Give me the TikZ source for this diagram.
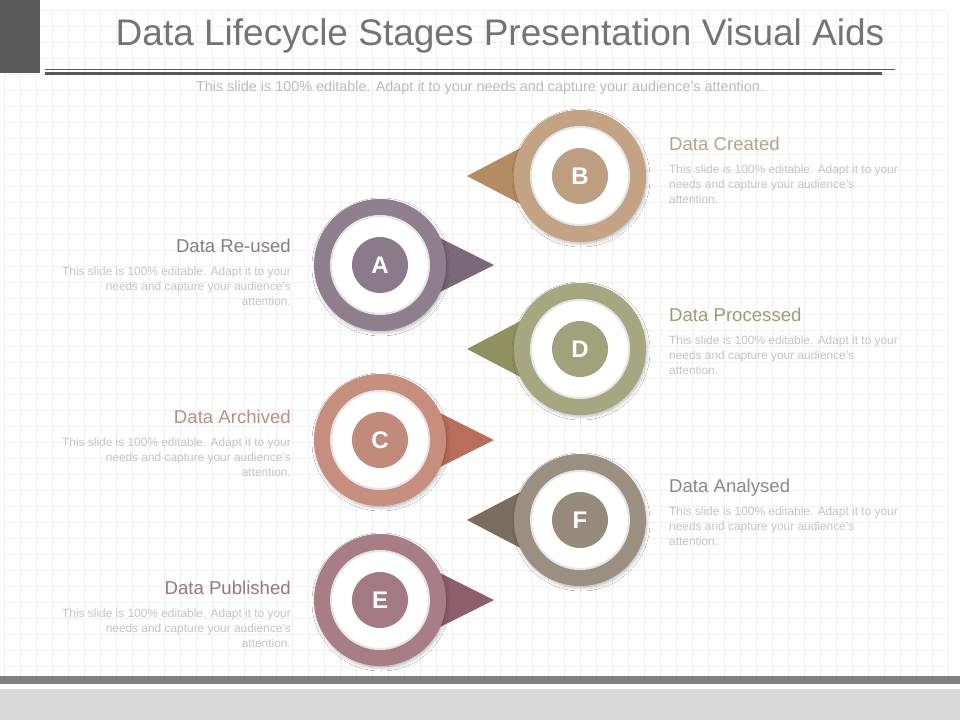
\documentclass[tikz,border=0pt]{standalone}
\usepackage{fontspec}
\setmainfont{Liberation Sans}
\usetikzlibrary{calc,shadows.blur}
\definecolor{gridgray}{HTML}{F0F0F0}
\definecolor{bargray}{HTML}{595959}
\definecolor{titlegray}{HTML}{747474}
\definecolor{subgray}{HTML}{BBBBBB}
\definecolor{bodygray}{HTML}{C4C4C4}
\definecolor{bandgray}{HTML}{808080}
\definecolor{footgray}{HTML}{D9D9D9}
\definecolor{ringA}{HTML}{8F7F8E}\definecolor{tipA}{HTML}{7B6878}\definecolor{headA}{HTML}{8A7A88}
\definecolor{ringB}{HTML}{C4A384}\definecolor{tipB}{HTML}{B58B62}\definecolor{headB}{HTML}{BBA187}
\definecolor{ringC}{HTML}{C78E7E}\definecolor{tipC}{HTML}{B96E59}\definecolor{headC}{HTML}{BF8E80}
\definecolor{ringD}{HTML}{A5A780}\definecolor{tipD}{HTML}{8F925F}\definecolor{headD}{HTML}{9C9C72}
\definecolor{ringE}{HTML}{A87D88}\definecolor{tipE}{HTML}{8D5F6D}\definecolor{headE}{HTML}{9C7580}
\definecolor{ringF}{HTML}{9B8F7F}\definecolor{tipF}{HTML}{7A6F5E}\definecolor{headF}{HTML}{8A8A8A}
\tikzset{
	gridline/.style={draw=gridgray, line width=0.8pt},
	ring/.style={circle, inner sep=0pt, minimum size=132pt,
			blur shadow={shadow xshift=1pt, shadow yshift=-2pt, shadow blur radius=3pt, shadow opacity=25}},
	hole/.style={circle, inner sep=0pt, minimum size=98pt, fill=white, draw=black!10, line width=2pt},
	badge/.style={circle, inner sep=0pt, minimum size=56pt, text=white,
			font=\bfseries\fontsize{24}{24}\selectfont},
	stagehead/.style={inner sep=0pt, font=\fontsize{18.6}{18.6}\selectfont},
	stagetext/.style={inner sep=0pt, text=bodygray, font=\fontsize{11.9}{15}\selectfont}
}

\begin{document}
\begin{tikzpicture}[x=1pt,y=-1pt]
        \useasboundingbox (0,0) rectangle (960,720);
        \fill[white] (0,0) rectangle (960,720);
        \begin{scope}[shift={(4,10)}]
            \draw[gridline,step=16pt] (0,0) grid (944,666);
        \end{scope}
        % header
        \fill[bargray] (0,0) rectangle (40,73);
        \node[text=titlegray,font=\fontsize{37}{37}\selectfont,inner sep=0pt] (title) at (500,36) {Data Lifecycle Stages Presentation Visual Aids};
        \coordinate (rule_l) at (45,69);
        \coordinate (rule_r) at (895,69);
        \coordinate (bar_l) at (45,73.5);
        \coordinate (bar_r) at (882,73.5);
        \draw[bargray,line width=0.8pt] (rule_l) -- (rule_r);
        \draw[bargray,line width=2.5pt] (bar_l) -- (bar_r);
        \node[text=subgray,font=\fontsize{14.4}{14.4}\selectfont,inner sep=0pt] (subtitle) at (480,88) {This slide is 100\% editable. Adapt it to your needs and capture your audience's attention.};
        % pointers
        \fill[tipB] (467,176) -- (530,143) -- (530,209) -- cycle;
        \fill[tipD] (467,349) -- (530,316) -- (530,382) -- cycle;
        \fill[tipF] (467,520) -- (530,487) -- (530,553) -- cycle;
        \fill[tipA] (494,265) -- (430,233) -- (430,297) -- cycle;
        \fill[tipC] (494,440) -- (430,408) -- (430,472) -- cycle;
        \fill[tipE] (494,600) -- (430,568) -- (430,632) -- cycle;
        % rings
        \node[ring,fill=ringB] (ring_B) at (580,176) {};
        \node[hole] (hole_B) at (ring_B.center) {};
        \node[badge,fill=ringB!97!black] (B) at (ring_B.center) {B};
        \node[ring,fill=ringA] (ring_A) at (380,265) {};
        \node[hole] (hole_A) at (ring_A.center) {};
        \node[badge,fill=ringA!97!black] (A) at (ring_A.center) {A};
        \node[ring,fill=ringD] (ring_D) at (580,349) {};
        \node[hole] (hole_D) at (ring_D.center) {};
        \node[badge,fill=ringD!97!black] (D) at (ring_D.center) {D};
        \node[ring,fill=ringC] (ring_C) at (380,440) {};
        \node[hole] (hole_C) at (ring_C.center) {};
        \node[badge,fill=ringC!97!black] (C) at (ring_C.center) {C};
        \node[ring,fill=ringF] (ring_F) at (580,520) {};
        \node[hole] (hole_F) at (ring_F.center) {};
        \node[badge,fill=ringF!97!black] (F) at (ring_F.center) {F};
        \node[ring,fill=ringE] (ring_E) at (380,600) {};
        \node[hole] (hole_E) at (ring_E.center) {};
        \node[badge,fill=ringE!97!black] (E) at (ring_E.center) {E};
        % texts on the right
        \node[stagehead,text=headB,anchor=base west] (head_B) at (669,150) {Data Created};
        \node[stagetext,align=left,anchor=north west] (text_B) at (669,165) {This slide is 100\% editable. Adapt it to your\\needs and capture your audience's\\attention.};
        \node[stagehead,text=headD,anchor=base west] (head_D) at (669,321) {Data Processed};
        \node[stagetext,align=left,anchor=north west] (text_D) at (669,336) {This slide is 100\% editable. Adapt it to your\\needs and capture your audience's\\attention.};
        \node[stagehead,text=headF,anchor=base west] (head_F) at (669,492) {Data Analysed};
        \node[stagetext,align=left,anchor=north west] (text_F) at (669,507) {This slide is 100\% editable. Adapt it to your\\needs and capture your audience's\\attention.};
        % texts on the left
        \node[stagehead,text=headA,anchor=base east] (head_A) at (291,252) {Data Re-used};
        \node[stagetext,align=right,anchor=north east] (text_A) at (291,267) {This slide is 100\% editable. Adapt it to your\\needs and capture your audience's\\attention.};
        \node[stagehead,text=headC,anchor=base east] (head_C) at (291,423) {Data Archived};
        \node[stagetext,align=right,anchor=north east] (text_C) at (291,438) {This slide is 100\% editable. Adapt it to your\\needs and capture your audience's\\attention.};
        \node[stagehead,text=headE,anchor=base east] (head_E) at (291,594) {Data Published};
        \node[stagetext,align=right,anchor=north east] (text_E) at (291,609) {This slide is 100\% editable. Adapt it to your\\needs and capture your audience's\\attention.};
        % footer
        \fill[bandgray] (0,676) rectangle (960,684);
        \fill[footgray] (0,689) rectangle (960,720);
    \end{tikzpicture}
\end{document}
